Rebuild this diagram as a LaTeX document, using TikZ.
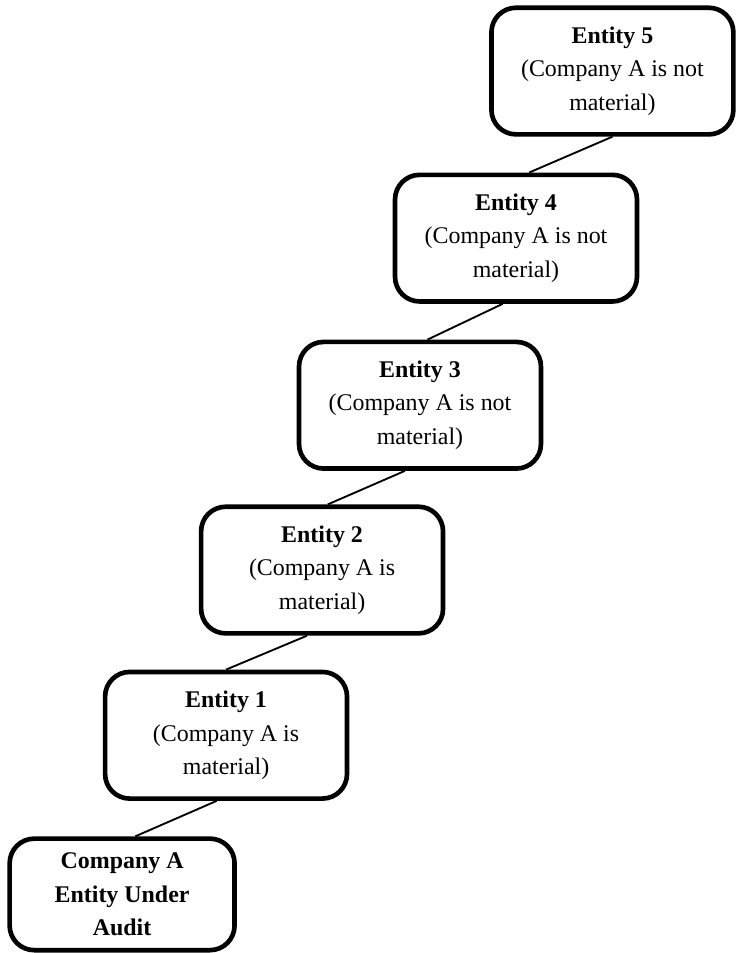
\documentclass[tikz,border=0pt]{standalone}
\usepackage{fontspec}
\setmainfont{Liberation Serif}
\usepackage{tikz}

\begin{document}
\begin{tikzpicture}[font = \fontsize{18}{25}\selectfont,
    entity/.style = {draw, line width = 3.5pt, rounded corners = 0.65cm,
        minimum width = 6.4cm, minimum height = 3.35cm, align = center},
    link/.style = {line width = 1.4pt}]
        \useasboundingbox (0,0) rectangle (19.47,-25.21);

        \node[entity, minimum width = 5.95cm, minimum height = 2.95cm] (audit) at (3.23,-23.66)
            {\textbf{Company A}\\ \textbf{Entity Under}\\ \textbf{Audit}};
        \node[entity] (ent1) at (5.98,-19.45) {\textbf{Entity 1}\\ (Company A is\\ material)};
        \node[entity] (ent2) at (8.52,-15.08) {\textbf{Entity 2}\\ (Company A is\\ material)};
        \node[entity] (ent3) at (11.11,-10.72) {\textbf{Entity 3}\\ (Company A is not\\ material)};
        \node[entity] (ent4) at (13.65,-6.30) {\textbf{Entity 4}\\ (Company A is not\\ material)};
        \node[entity] (ent5) at (16.2,-1.88) {\textbf{Entity 5}\\ (Company A is not\\ material)};

        \draw[link] ([xshift=-0.25cm]ent1.south) -- ([xshift=0.35cm]audit.north);
        \draw[link] ([xshift=-0.4cm]ent2.south) -- (ent1.north);
        \draw[link] ([xshift=-0.4cm]ent3.south) -- ([xshift=0.15cm]ent2.north);
        \draw[link] ([xshift=-0.35cm]ent4.south) -- ([xshift=0.2cm]ent3.north);
        \draw[link] (ent5.south) -- ([xshift=0.35cm]ent4.north);
    \end{tikzpicture}
\end{document}
